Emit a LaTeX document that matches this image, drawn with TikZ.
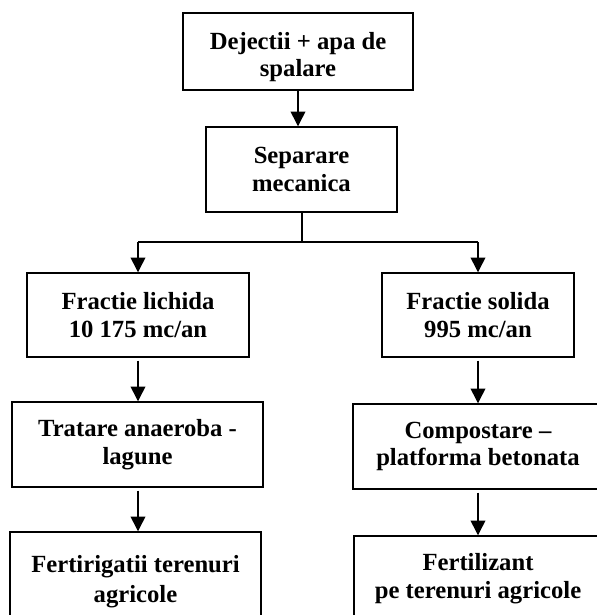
\documentclass[tikz,border=0pt]{standalone}
\usepackage{fontspec}
\setmainfont{Liberation Serif}
\usetikzlibrary{arrows.meta}

\begin{document}
\begin{tikzpicture}[x=0.75pt, y=-0.75pt,
  box/.style={draw, line width=1.1pt, inner sep=0pt, align=center,
    font=\fontsize{18.5}{20.5}\selectfont\bfseries},
  flow/.style={-{Triangle[length=11pt,width=11pt]}, line width=1.1pt}]
\useasboundingbox (0,0) rectangle (597,615);
\clip (0,0) rectangle (597,615);
\def \rowh {63.75pt}
% sursa si separare
\node[box, minimum width=172.5pt, minimum height=57.75pt] (dejectii) at (298,51.5)
  {\rule{0pt}{21.6pt}Dejectii + apa de\\spalare};
\node[box, minimum width=143.25pt, minimum height=\rowh] (separare) at (301.5,169.5)
  {Separare\\mecanica};
% fractii
\node[box, minimum width=166.5pt, minimum height=63pt] (lichida) at (138,315)
  {Fractie lichida\\10 175 mc/an};
\node[box, minimum width=144pt, minimum height=63pt] (solida) at (478,315)
  {Fractie solida\\995 mc/an};
% tratare
\node[box, minimum width=188.25pt, minimum height=\rowh] (tratare) at (137.5,444.5)
  {Tratare anaeroba -\\lagune};
\node[box, minimum width=187.5pt, minimum height=\rowh] (compost) at (478,446.5)
  {Compostare –\\platforma betonata};
% utilizare
\node[box, minimum width=188.25pt, minimum height=\rowh] (fertirig) at (135.5,574.5)
  {\rule{0pt}{23.6pt}Fertirigatii terenuri\\[2pt]agricole};
\node[box, minimum width=186pt, minimum height=\rowh] (fertiliz) at (478,578.5)
  {Fertilizant\\pe terenuri agricole};
% legaturi
\coordinate (split) at (302,242);
\draw[flow] (dejectii.south) -- (dejectii.south |- separare.north);
\draw[line width=1.1pt] (separare.south -| split) -- (split);
\draw[line width=1.1pt] (lichida.north |- split) -- (solida.north |- split);
\draw[flow] (lichida.north |- split) -- (lichida.north);
\draw[flow] (solida.north |- split) -- (solida.north);
\draw[flow, shorten <=2.25pt] (lichida.south) -- (lichida.south |- tratare.north);
\draw[flow, shorten <=2.25pt] (solida.south) -- (solida.south |- compost.north);
\draw[flow, shorten <=2.25pt] (tratare.south -| lichida) -- (lichida |- fertirig.north);
\draw[flow, shorten <=2.25pt] (compost.south) -- (compost.south |- fertiliz.north);
\end{tikzpicture}
\end{document}
